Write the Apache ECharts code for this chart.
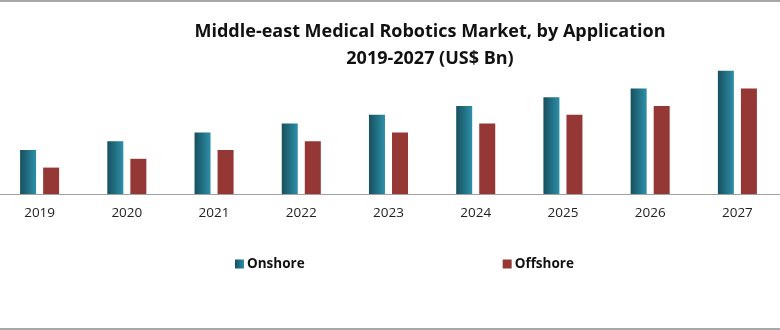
<!DOCTYPE html>
<html>
<head>
<meta charset="utf-8">
<script src="https://cdn.jsdelivr.net/npm/echarts@6/dist/echarts.min.js"></script>
<style>
html,body{margin:0;padding:0;background:#fff;overflow:hidden;width:780px;height:330px;position:relative;}
#c{width:785px;height:330px;position:absolute;left:-4px;top:0;}
</style>
</head>
<body>
<div id="c"></div>
<script>
const categories = ['2019','2020','2021','2022','2023','2024','2025','2026','2027'];
const onshore = [5, 6, 7, 8, 9, 10, 11, 12, 14];
const offshore = [3, 4, 5, 6, 7, 8, 9, 10, 12];
const seriesNames = ['Onshore', 'Offshore'];

const chart = echarts.init(document.getElementById('c'), null, {renderer: 'canvas'});
const tealGrad = new echarts.graphic.LinearGradient(0, 0, 1, 0, [
  {offset: 0, color: '#17505f'},
  {offset: 1, color: '#2d8fa8'}
]);
chart.setOption({
  animation: false,
  backgroundColor: '#fff',
  title: {
    text: 'Middle-east Medical Robotics Market, by Application\n2019-2027 (US$ Bn)',
    left: 429, top: 13, textAlign: 'center',
    textStyle: {fontFamily: 'Open Sans', fontWeight: 'bold', fontSize: 18, color: '#111', lineHeight: 27}
  },
  legend: {
    data: seriesNames,
    top: 257, left: 239,
    padding: 0,
    itemGap: 198,
    itemWidth: 9, itemHeight: 9,
    icon: 'rect',
    textStyle: {fontFamily: 'Open Sans', fontWeight: 'bold', fontSize: 13.5, color: '#111', padding: [0,0,0,-2]}
  },
  grid: {left: 0, right: 0, top: 70.8, bottom: 136, containLabel: false},
  xAxis: {
    type: 'category', data: categories,
    axisLine: {lineStyle: {color: '#a0a0a0', width: 1}},
    axisTick: {show: false},
    axisLabel: {fontFamily: 'Open Sans', fontSize: 13.5, color: '#222', margin: 12}
  },
  yAxis: {
    type: 'value', min: 0, max: 14, show: false, splitLine: {show: false}
  },
  series: [
    {name: seriesNames[0], type: 'bar', data: onshore, barWidth: 16, barGap: '44%',
     itemStyle: {color: tealGrad}},
    {name: seriesNames[1], type: 'bar', data: offshore, barWidth: 16,
     itemStyle: {color: '#953735'}}
  ],
  graphic: [
    {type: 'rect', shape: {x: 4, y: 0, width: 780, height: 2}, style: {fill: '#a8a8a8'}},
    {type: 'rect', shape: {x: 4, y: 328, width: 780, height: 2}, style: {fill: '#a8a8a8'}}
  ]
});
</script>
</body>
</html>
